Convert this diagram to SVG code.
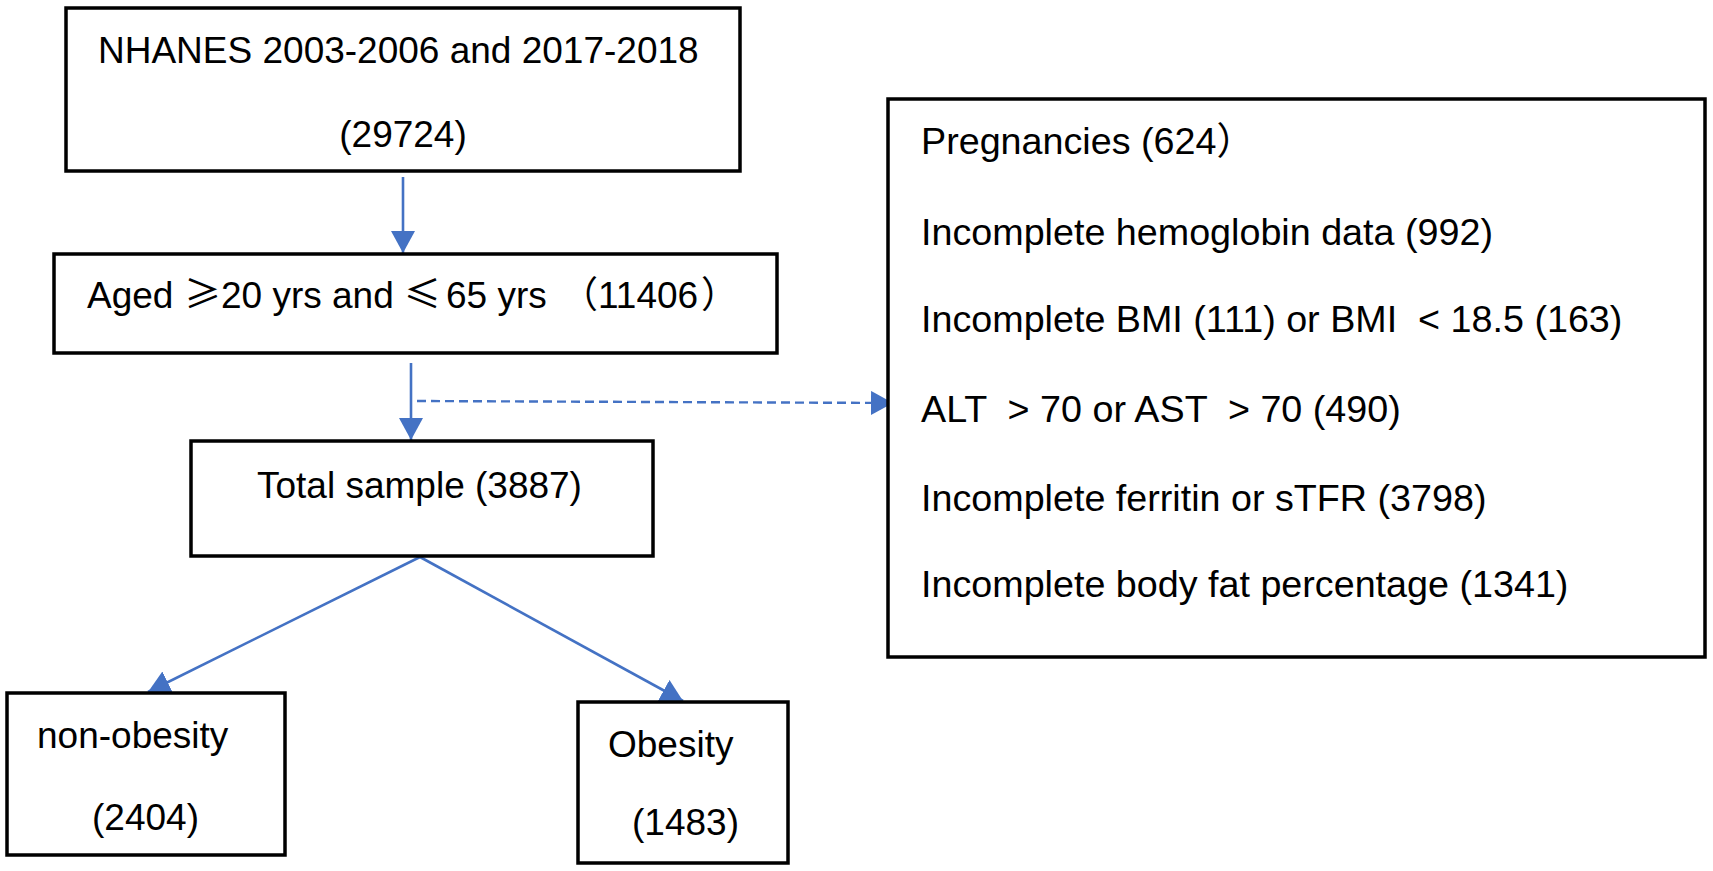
<svg xmlns="http://www.w3.org/2000/svg" width="1713" height="871" viewBox="0 0 1713 871">
<style>
.box{fill:#ffffff;stroke:#000000;stroke-width:3.5}
.t{font-family:"Liberation Sans",Arial,sans-serif;font-size:37px;fill:#000000}
.r{font-size:37.7px}
.cjk{font-family:"Noto Sans CJK SC","Liberation Sans",sans-serif}
.conn{stroke:#4472C4;stroke-width:2.6;fill:none}
.dash{stroke-dasharray:9 5;stroke-width:2.4}
</style>
<defs>
<marker id="ah" markerUnits="userSpaceOnUse" markerWidth="24" markerHeight="26" refX="22" refY="12" orient="auto">
<path d="M0,0 L22,12 L0,24 Z" fill="#4472C4"/>
</marker>
</defs>
<rect width="1713" height="871" fill="#ffffff"/>
<g id="connectors">
<line class="conn" x1="403" y1="177" x2="403" y2="253" marker-end="url(#ah)"/>
<line class="conn" x1="411" y1="363" x2="411" y2="440" marker-end="url(#ah)"/>
<line class="conn dash" x1="417" y1="401" x2="893" y2="403" marker-end="url(#ah)"/>
<line class="conn" x1="420" y1="557" x2="148" y2="692" marker-end="url(#ah)"/>
<line class="conn" x1="420" y1="557" x2="683" y2="701" marker-end="url(#ah)"/>
</g>
<g id="node-nhanes">
<rect class="box" x="66" y="8" width="674" height="163"/>
<text class="t" x="98" y="63" font-size="36.5">NHANES 2003-2006 and 2017-2018</text>
<text class="t" x="403" y="147" text-anchor="middle">(29724)</text>
</g>
<g id="node-aged">
<rect class="box" x="54" y="254" width="723" height="99"/>
<text class="t" y="308"><tspan x="87">Aged </tspan><tspan class="cjk" x="184">≥</tspan><tspan x="221">20 yrs and </tspan><tspan class="cjk" x="404">≤</tspan><tspan x="446">65 yrs </tspan><tspan class="cjk" x="561">（</tspan><tspan x="598">11406</tspan><tspan class="cjk" x="701">）</tspan></text>
</g>
<g id="node-total">
<rect class="box" x="191" y="441" width="462" height="115"/>
<text class="t" x="257" y="498">Total sample (3887)</text>
</g>
<g id="node-nonobesity">
<rect class="box" x="7" y="693" width="278" height="162"/>
<text class="t" x="37" y="748">non-obesity</text>
<text class="t" x="92" y="830">(2404)</text>
</g>
<g id="node-obesity">
<rect class="box" x="578" y="702" width="210" height="161"/>
<text class="t" x="608" y="757">Obesity</text>
<text class="t" x="632" y="835">(1483)</text>
</g>
<g id="node-exclusions">
<rect class="box" x="888" y="99" width="817" height="558"/>
<text class="t r" x="921" y="154">Pregnancies (624<tspan class="cjk">）</tspan></text>
<text class="t r" x="921" y="245">Incomplete hemoglobin data (992)</text>
<text class="t r" x="921" y="332" xml:space="preserve">Incomplete BMI (111) or BMI  &lt; 18.5 (163)</text>
<text class="t r" x="921" y="422" xml:space="preserve">ALT  &gt; 70 or AST  &gt; 70 (490)</text>
<text class="t r" x="921" y="511">Incomplete ferritin or sTFR (3798)</text>
<text class="t r" x="921" y="597">Incomplete body fat percentage (1341)</text>
</g>
</svg>
